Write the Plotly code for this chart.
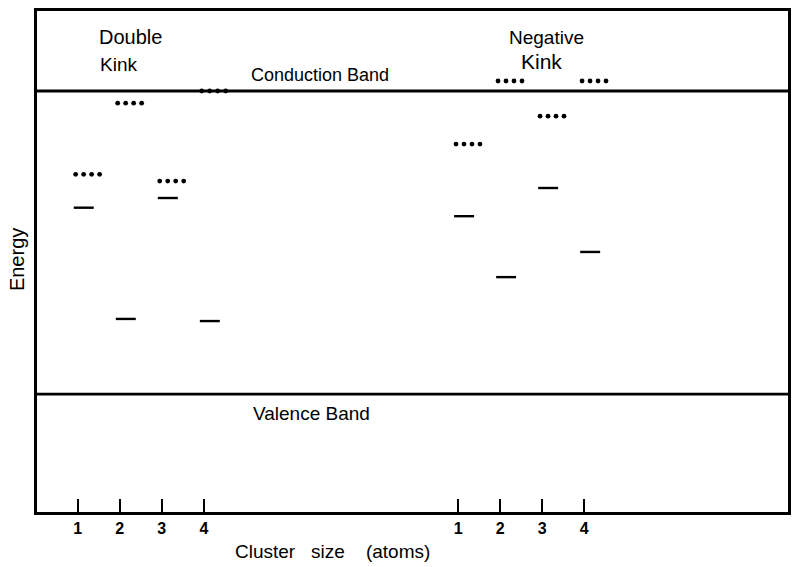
import plotly.graph_objects as go

# Cluster sizes (atoms) for each kink type
cluster_sizes = [1, 2, 3, 4]
cluster_labels = ["1", "2", "3", "4"]

# Energies in units of the band gap (valence band edge = 0, conduction band edge = 1)
double_kink_ground = [0.615, 0.248, 0.647, 0.241]
double_kink_excited = [0.725, 0.960, 0.703, 1.000]
negative_kink_ground = [0.587, 0.386, 0.680, 0.469]
negative_kink_excited = [0.825, 1.033, 0.917, 1.033]

valence_band_edge = 0.0
conduction_band_edge = 1.0

# horizontal placement of the two groups along the cluster-size axis
group_offsets = {"double": 0.0, "negative": 9.05}

FONT = "Liberation Sans"
X_RANGE = [0.03, 17.9]
Y_RANGE = [-0.389, 1.264]

fig = go.Figure()


def add_levels(offset, ground, excited):
    # ground state: short solid bar
    xs, ys = [], []
    for n, e in zip(cluster_sizes, ground):
        xs += [n + offset - 0.095, n + offset + 0.38, None]
        ys += [e, e, None]
    fig.add_trace(go.Scatter(x=xs, y=ys, mode="lines",
                             line=dict(color="black", width=2.4),
                             hoverinfo="skip", showlegend=False))
    # excited state: row of four dots
    xd, yd = [], []
    for n, e in zip(cluster_sizes, excited):
        for k in range(4):
            xd.append(n + offset - 0.05 + 0.19 * k)
            yd.append(e)
    fig.add_trace(go.Scatter(x=xd, y=yd, mode="markers",
                             marker=dict(color="black", size=4.8),
                             hoverinfo="skip", showlegend=False))


# band edges
for e in (conduction_band_edge, valence_band_edge):
    fig.add_trace(go.Scatter(x=X_RANGE, y=[e, e], mode="lines",
                             line=dict(color="black", width=2.8),
                             hoverinfo="skip", showlegend=False))

add_levels(group_offsets["double"], double_kink_ground, double_kink_excited)
add_levels(group_offsets["negative"], negative_kink_ground, negative_kink_excited)

tickvals = [n + group_offsets["double"] for n in cluster_sizes] + \
           [n + group_offsets["negative"] for n in cluster_sizes]
ticktext = ["<b>%s</b>" % t for t in cluster_labels + cluster_labels]


def label(text, x, y, size, xref="x", yref="y", angle=0):
    fig.add_annotation(text=text, x=x, y=y, xref=xref, yref=yref,
                       showarrow=False, textangle=angle,
                       font=dict(family=FONT, size=size, color="black"),
                       xanchor="center", yanchor="middle")


label("Double", 2.253, 1.178, 20)
label("Kink", 1.962, 1.089, 19)
label("Conduction\u00a0Band", 6.773, 1.053, 18)
label("Negative", 12.154, 1.175, 19)
label("Kink", 12.023, 1.099, 21)
label("Valence Band", 6.56, -0.063, 19)
label("Energy", -0.0265, 0.503, 20, xref="paper", yref="paper", angle=-90)
label("Cluster\u00a0\u00a0\u00a0size\u00a0\u00a0\u00a0\u00a0(atoms)", 0.393, -0.0798, 19,
      xref="paper", yref="paper")

fig.update_layout(
    width=794, height=567,
    margin=dict(l=37, r=3, t=11, b=55),
    paper_bgcolor="white", plot_bgcolor="white",
    showlegend=False,
    xaxis=dict(range=X_RANGE, showgrid=False, zeroline=False,
               showline=True, mirror=True, linecolor="black", linewidth=2.5,
               ticks="inside", ticklen=13, tickwidth=1.6, tickcolor="black",
               tickvals=tickvals, ticktext=ticktext,
               tickfont=dict(family=FONT, size=16, color="black")),
    yaxis=dict(range=Y_RANGE, showgrid=False, zeroline=False,
               showline=True, mirror=True, linecolor="black", linewidth=2.5,
               showticklabels=False, ticks=""),
)

fig.write_html("out.html")
